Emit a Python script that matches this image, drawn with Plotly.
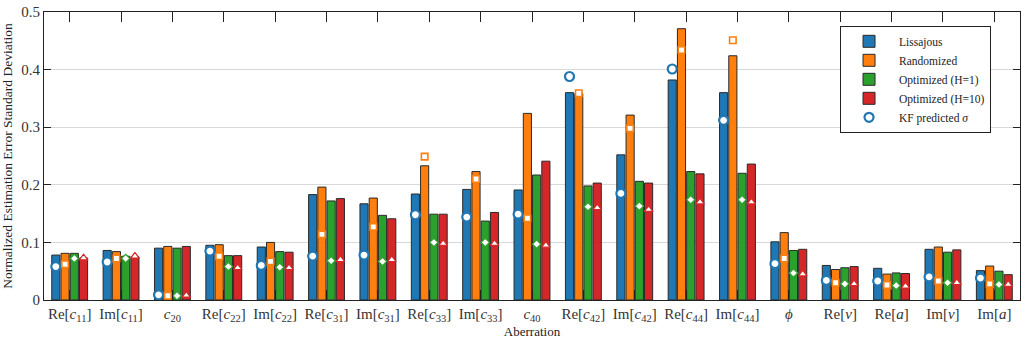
import plotly.graph_objects as go

categories = ["Re[<i>c</i><sub>11</sub>]", "Im[<i>c</i><sub>11</sub>]", "<i>c</i><sub>20</sub>",
              "Re[<i>c</i><sub>22</sub>]", "Im[<i>c</i><sub>22</sub>]", "Re[<i>c</i><sub>31</sub>]",
              "Im[<i>c</i><sub>31</sub>]", "Re[<i>c</i><sub>33</sub>]", "Im[<i>c</i><sub>33</sub>]",
              "<i>c</i><sub>40</sub>", "Re[<i>c</i><sub>42</sub>]", "Im[<i>c</i><sub>42</sub>]",
              "Re[<i>c</i><sub>44</sub>]", "Im[<i>c</i><sub>44</sub>]", "<i>ϕ</i>",
              "Re[<i>v</i>]", "Re[<i>a</i>]", "Im[<i>v</i>]", "Im[<i>a</i>]"]

lissajous = [0.078, 0.086, 0.090, 0.095, 0.092, 0.183, 0.167, 0.184, 0.192, 0.191,
             0.360, 0.252, 0.382, 0.360, 0.101, 0.060, 0.055, 0.088, 0.051]
randomized = [0.081, 0.084, 0.093, 0.096, 0.100, 0.196, 0.177, 0.233, 0.223, 0.324,
              0.358, 0.321, 0.471, 0.424, 0.117, 0.053, 0.045, 0.092, 0.059]
optimized_h1 = [0.081, 0.076, 0.090, 0.077, 0.084, 0.172, 0.147, 0.149, 0.137, 0.217,
                0.198, 0.206, 0.223, 0.220, 0.086, 0.056, 0.047, 0.083, 0.050]
optimized_h10 = [0.073, 0.075, 0.093, 0.077, 0.083, 0.176, 0.141, 0.149, 0.152, 0.241,
                 0.203, 0.203, 0.219, 0.236, 0.088, 0.058, 0.046, 0.087, 0.044]

kf_lissajous = [0.058, 0.066, 0.009, 0.085, 0.060, 0.076, 0.078, 0.148, 0.144, 0.149,
                0.388, 0.185, 0.401, 0.312, 0.063, 0.034, 0.033, 0.040, 0.038]
kf_randomized = [0.062, 0.072, 0.0075, 0.076, 0.067, 0.114, 0.127, 0.249, 0.210, 0.142,
                 0.359, 0.298, 0.434, 0.451, 0.072, 0.030, 0.026, 0.033, 0.028]
kf_h1 = [0.072, 0.072, 0.0075, 0.058, 0.057, 0.068, 0.067, 0.100, 0.100, 0.097,
         0.162, 0.163, 0.174, 0.174, 0.047, 0.028, 0.025, 0.030, 0.027]
kf_h10 = [0.073, 0.076, 0.008, 0.056, 0.056, 0.070, 0.070, 0.098, 0.098, 0.095,
          0.160, 0.157, 0.170, 0.170, 0.045, 0.028, 0.024, 0.030, 0.027]

series_names = ["Lissajous", "Randomized", "Optimized (H=1)", "Optimized (H=10)"]
colors = ["#1f77b4", "#ff7f0e", "#2ca02c", "#d62728"]
bar_data = [lissajous, randomized, optimized_h1, optimized_h10]
kf_data = [kf_lissajous, kf_randomized, kf_h1, kf_h10]
symbols = ["circle", "square", "diamond", "triangle-up"]
sizes = [9, 6.5, 6.5, 7.5]
widths = [2.2, 1.6, 1.3, 1.3]

serif = "Liberation Serif"

fig = go.Figure()
for i, (name, vals) in enumerate(zip(series_names, bar_data)):
    fig.add_trace(go.Bar(
        x=categories, y=vals, name=name, offsetgroup=str(i),
        marker=dict(color=colors[i], line=dict(color="#2a2a2a", width=1)),
    ))
for i, vals in enumerate(kf_data):
    fig.add_trace(go.Scatter(
        x=categories, y=vals, mode="markers", offsetgroup=str(i),
        name="KF predicted <i>σ</i>", showlegend=(i == 0),
        marker=dict(symbol=symbols[i], size=sizes[i], color="white",
                    line=dict(color=colors[i], width=widths[i])),
    ))

fig.update_layout(
    width=1028, height=342,
    margin=dict(l=44, r=8, t=12, b=42),
    paper_bgcolor="white", plot_bgcolor="white",
    barmode="group", bargap=0.28, bargroupgap=0.12,
    scattermode="group", scattergap=0.28,
    font=dict(family=serif, color="#222", size=12),
    legend=dict(x=0.8156, y=0.952, xanchor="left", yanchor="top",
                bgcolor="white", bordercolor="#222", borderwidth=1,
                font=dict(family=serif, size=11.5, color="#222"),
                itemwidth=50, tracegroupgap=0, indentation=-2),
    xaxis=dict(
        automargin=False,
        title=dict(text="Aberration", font=dict(family=serif, size=13), standoff=2),
        tickfont=dict(family=serif, size=15, color="#333"),
        showline=True, linecolor="#222", linewidth=1, mirror="ticks",
        ticks="inside", ticklen=10, tickcolor="#222",
        showgrid=False,
    ),
    yaxis=dict(
        automargin=False,
        title=dict(text="Normalized Estimation Error Standard Deviation",
                   font=dict(family=serif, size=13.5), standoff=6),
        range=[0, 0.5], dtick=0.1,
        tickfont=dict(family=serif, size=15, color="#333"),
        showline=True, linecolor="#222", linewidth=1, mirror="ticks",
        ticks="inside", ticklen=7, tickcolor="#222",
        showgrid=True, gridcolor="#d9d9d9", gridwidth=1,
        zeroline=False,
    ),
)

fig.write_html("out.html")
